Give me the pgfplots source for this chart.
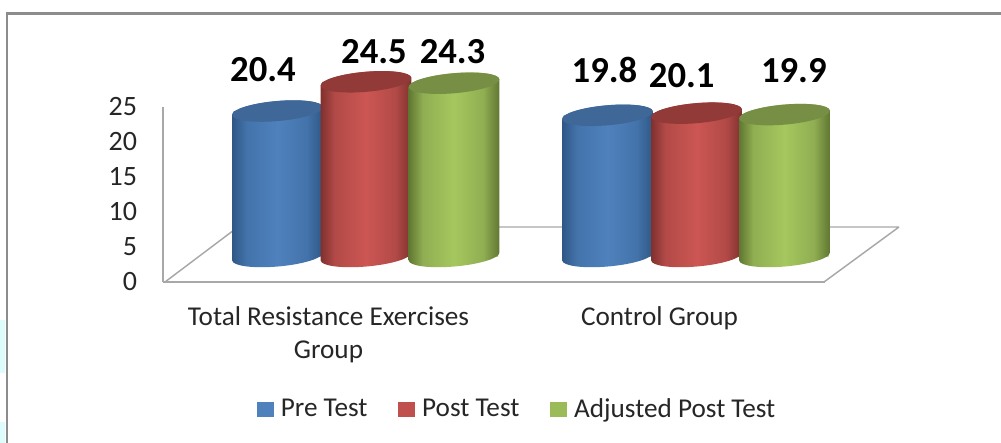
\documentclass[border=0pt]{standalone}
\usepackage{fontspec}
\setmainfont{Carlito}
\usepackage{pgfplots}
\usepackage{pgfplotstable}
\pgfplotsset{compat=1.18}
\definecolor{bA}{HTML}{2E5684}\definecolor{bB}{HTML}{4373AA}\definecolor{bC}{HTML}{4F81BD}\definecolor{bT}{HTML}{3F6797}
\definecolor{rA}{HTML}{7E302E}\definecolor{rB}{HTML}{B24A47}\definecolor{rC}{HTML}{CC5653}\definecolor{rT}{HTML}{913A38}
\definecolor{gA}{HTML}{5F7531}\definecolor{gB}{HTML}{90AE52}\definecolor{gC}{HTML}{A5C75E}\definecolor{gT}{HTML}{778F45}
\definecolor{bL}{HTML}{4F81BD}\definecolor{rL}{HTML}{C0504D}\definecolor{gL}{HTML}{9BBB59}
\definecolor{frameline}{HTML}{8C8C8C}\definecolor{floorline}{HTML}{A8A8A8}\definecolor{txt}{HTML}{262626}
\definecolor{paleedge}{HTML}{DDFDFD}
\pgfdeclarehorizontalshading{cylb}{100bp}{color(0bp)=(bA);color(25bp)=(bA);color(33bp)=(bB);color(50bp)=(bC);color(66bp)=(bB);color(75bp)=(bA);color(100bp)=(bA)}
\pgfdeclarehorizontalshading{cylr}{100bp}{color(0bp)=(rA);color(25bp)=(rA);color(33bp)=(rB);color(50bp)=(rC);color(66bp)=(rB);color(75bp)=(rA);color(100bp)=(rA)}
\pgfdeclarehorizontalshading{cylg}{100bp}{color(0bp)=(gA);color(25bp)=(gA);color(33bp)=(gB);color(50bp)=(gC);color(66bp)=(gB);color(75bp)=(gA);color(100bp)=(gA)}
\newcommand{\cylellipse}{\pgftransformrotate{5}\pgfpathellipse{\pgfpointorigin}{\pgfqpoint{34.1pt}{0pt}}{\pgfqpoint{0pt}{7.5pt}}}
% silhouette of a tilted cylinder, its height taken from the value of the point (5.35pt per unit)
\newcommand{\cylsil}[1]{%
  \pgfmathsetmacro{\cylh}{\cylv*5.35}%
  \pgfpathmoveto{\pgfqpoint{-34pt}{-2.97pt}}%
  \pgfpathcurveto{\pgfqpoint{-33.64pt}{-7.10pt}}{\pgfqpoint{-18.13pt}{-9.11pt}}{\pgfqpoint{.65pt}{-7.47pt}}%
  \pgfpathcurveto{\pgfqpoint{19.43pt}{-5.83pt}}{\pgfqpoint{34.36pt}{-1.16pt}}{\pgfqpoint{34pt}{2.97pt}}%
  \pgfpathlineto{\pgfpointadd{\pgfqpoint{34pt}{2.97pt}}{\pgfqpoint{0pt}{\cylh pt}}}%
  \pgfpathcurveto{\pgfpointadd{\pgfqpoint{33.64pt}{7.10pt}}{\pgfqpoint{0pt}{\cylh pt}}}{\pgfpointadd{\pgfqpoint{18.13pt}{9.11pt}}{\pgfqpoint{0pt}{\cylh pt}}}{\pgfpointadd{\pgfqpoint{-.65pt}{7.47pt}}{\pgfqpoint{0pt}{\cylh pt}}}%
  \pgfpathcurveto{\pgfpointadd{\pgfqpoint{-19.43pt}{5.83pt}}{\pgfqpoint{0pt}{\cylh pt}}}{\pgfpointadd{\pgfqpoint{-34.36pt}{1.16pt}}{\pgfqpoint{0pt}{\cylh pt}}}{\pgfpointadd{\pgfqpoint{-34pt}{-2.97pt}}{\pgfqpoint{0pt}{\cylh pt}}}%
  \pgfpathclose
  \pgfshadepath{#1}{0}\pgfusepath{discard}}
\pgfdeclareplotmark{silb}{\cylsil{cylb}}
\pgfdeclareplotmark{silr}{\cylsil{cylr}}
\pgfdeclareplotmark{silg}{\cylsil{cylg}}
\pgfdeclareplotmark{topb}{\pgfsetfillcolor{bT}\cylellipse\pgfusepathqfill}
\pgfdeclareplotmark{topr}{\pgfsetfillcolor{rT}\cylellipse\pgfusepathqfill}
\pgfdeclareplotmark{topg}{\pgfsetfillcolor{gT}\cylellipse\pgfusepathqfill}
\pgfplotstableread{
x y dx dy
277.5 20.4 -10.9 30.75
607.5 19.8 -2.25 34
}\pre
\pgfplotstableread{
x y dx dy
366 24.5 6 23
696.5 20.1 -11.1 28
}\post
\pgfplotstableread{
x y dx dy
454 24.3 -1.1 24
784.5 19.9 7 32.8
}\adj
\pgfplotsset{
  cyl body/.style={ybar,bar width=66pt,bar shift=0pt,draw=none,fill=#1,forget plot},
  cyl side/.style={only marks,scatter,mark=#1,forget plot,
    point meta=\thisrow{y},
    visualization depends on={\thisrow{y}\as\cylv},
    scatter/@pre marker code/.code={\scope},
    scatter/@post marker code/.code={\endscope}},
  cyl top/.style={only marks,mark=#1,forget plot,
    point meta=y,
    visualization depends on={\thisrow{dx}\as\ldx},
    visualization depends on={\thisrow{dy}\as\ldy},
    nodes near coords,
    nodes near coords style={anchor=center,xshift=\ldx pt,yshift=\ldy pt,font=\fontsize{27.5}{27.5}\selectfont\bfseries,text=black,
      /pgf/number format/fixed,/pgf/number format/fixed zerofill,/pgf/number format/precision=1,/pgf/number format/assume math mode=true}},
}
\begin{document}
\begin{tikzpicture}
\useasboundingbox (0,0) rectangle (750.75pt,332.25pt);
\begin{scope}[shift={(0,332.25pt)},x=.75pt,y=-.75pt]
  \fill[paleedge] (0,320) rectangle (5,373);
  \fill[paleedge] (0,422) rectangle (5,443);
  \draw[frameline,line width=1.6pt] (7,443)--(7,13.5)--(1001,13.5);
  \draw[floorline,line width=1.1pt,line join=bevel] (165,282)--(238,227)--(899,227)--(824,282)--cycle;
\end{scope}
\begin{axis}[
  at={(122.25pt,120.75pt)},anchor=south west,
  scale only axis,width=496.5pt,height=131.25pt,
  xmin=-0.5,xmax=1.5,ymin=0,ymax=25,
  axis y line*=left,axis x line*=bottom,
  axis line style={floorline,line width=1.1pt,-},
  tick style={draw=none},
  xtick={0,1},
  xticklabels={{Total Resistance Exercises\\Group},{Control Group}},
  xticklabel style={align=center,font=\fontsize{20.4}{24.5}\selectfont,text=txt,yshift=-15pt},
  ytick={0,5,10,15,20,25},
  yticklabel style={font=\fontsize{21}{21}\selectfont,text=txt,xshift=-16pt,/pgf/number format/assume math mode=true},
]
\end{axis}
\begin{axis}[
  at={(0,0)},anchor=south west,
  scale only axis,width=750.75pt,height=332.25pt,
  xmin=0,xmax=1001,ymin=-26.157,ymax=35.975,
  hide axis,clip=false,
  legend style={at={(0.517,0.0767)},anchor=center,draw=none,fill=none,legend columns=-1,
    font=\fontsize{20.4}{20.4}\selectfont,text=txt,
    /tikz/every even column/.append style={column sep=21.1pt},
    /tikz/every odd column/.append style={column sep=3.5pt}},
]
\addlegendimage{legend image code/.code={\fill[bL] (0pt,-5.25pt) rectangle (12pt,5.25pt);}}
\addlegendentry{Pre Test}
\addlegendimage{legend image code/.code={\fill[rL] (0pt,-5.25pt) rectangle (12pt,5.25pt);}}
\addlegendentry{Post Test}
\addlegendimage{legend image code/.code={\fill[gL] (0pt,-5.25pt) rectangle (12pt,5.25pt);}}
\addlegendentry{Adjusted Post Test}
\addplot[cyl body=bB] table[x=x,y=y]{\pre};
\addplot[cyl side=silb] table[x=x,y expr=0]{\pre};
\addplot[cyl top=topb] table[x=x,y=y]{\pre};
\addplot[cyl body=rB] table[x=x,y=y]{\post};
\addplot[cyl side=silr] table[x=x,y expr=0]{\post};
\addplot[cyl top=topr] table[x=x,y=y]{\post};
\addplot[cyl body=gB] table[x=x,y=y]{\adj};
\addplot[cyl side=silg] table[x=x,y expr=0]{\adj};
\addplot[cyl top=topg] table[x=x,y=y]{\adj};
\end{axis}
\end{tikzpicture}
\end{document}
